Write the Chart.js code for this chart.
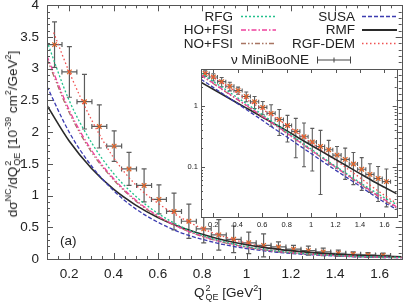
<!DOCTYPE html>
<html>
<head>
<meta charset="utf-8">
<script src="https://cdn.jsdelivr.net/npm/chart.js@4.4.1/dist/chart.umd.min.js"></script>
<style>
  html, body { margin: 0; padding: 0; background: #fff; }
  #wrap { position: relative; width: 407px; height: 303px; overflow: hidden;
          font-family: 'Liberation Sans', Arial, sans-serif; color: #222; }
  #main { position: absolute; left: 0; top: 0; }
  #inset { position: absolute; left: 176px; top: 62px; }
  .txt { position: absolute; white-space: nowrap; font-size: 13.5px; line-height: 1; }
  .ytitle { left: 13px; top: 134px; transform: translate(-50%, -50%) rotate(-90deg); }
  .xtitle { left: 228px; top: 293px; transform: translate(-50%, -50%); }
  .ss { display: inline-flex; flex-direction: column; vertical-align: middle;
        font-size: 9px; line-height: 9px; margin-left: 1px; }
  sup { font-size: 9px; vertical-align: 6px; line-height: 0; }
  .tag { left: 60px; top: 234px; }
</style>
</head>
<body>
<div id="wrap">
  <canvas id="main" width="407" height="303"></canvas>
  <canvas id="inset" width="226" height="172"></canvas>
  <div class="txt ytitle">d&sigma;<sup>NC</sup>/dQ<span class="ss"><span>2</span><span>QE</span></span> [10<sup>-39</sup> cm<sup>2</sup>/GeV<sup>2</sup>]</div>
  <div class="txt xtitle">Q<span class="ss"><span>2</span><span>QE</span></span> [GeV<sup>2</sup>]</div>
  <div class="txt tag">(a)</div>
</div>
<script>
// MiniBooNE NCE points (bin centres, cross section, error)
const q2 = [0.134, 0.201, 0.269, 0.336, 0.403, 0.470, 0.538, 0.605, 0.673, 0.740, 0.807, 0.875,
            0.942, 1.010, 1.077, 1.144, 1.212, 1.279, 1.346, 1.414, 1.481, 1.548, 1.616];
const nceData = [3.38, 2.95, 2.48, 2.09, 1.78, 1.42, 1.16, 0.94, 0.75, 0.595, 0.475, 0.38,
                 0.31, 0.255, 0.215, 0.19, 0.155, 0.132, 0.111, 0.091, 0.075, 0.064, 0.057];
const nceErr = [0.36, 0.40, 0.43, 0.34, 0.24, 0.26, 0.26, 0.23, 0.29, 0.27, 0.22, 0.24,
                0.21, 0.17, 0.18, 0.08, 0.06, 0.07, 0.06, 0.05, 0.037, 0.037, 0.035];
const binHalf = 0.0337;

// model curves
const curveQ2 = [0.1, 0.2, 0.3, 0.4, 0.5, 0.6, 0.7, 0.8, 0.9, 1.0, 1.1, 1.2, 1.3, 1.4, 1.5, 1.6, 1.7];
const rfg   = [3.43, 2.50, 1.84, 1.35, 0.99, 0.72, 0.52, 0.375, 0.27, 0.195, 0.14, 0.102, 0.075, 0.055, 0.041, 0.031, 0.024];
const hoFsi = [3.20, 2.35, 1.72, 1.27, 0.93, 0.68, 0.495, 0.36, 0.26, 0.188, 0.136, 0.099, 0.072, 0.053, 0.039, 0.029, 0.022];
const noFsi = [3.15, 2.31, 1.69, 1.25, 0.915, 0.67, 0.49, 0.355, 0.258, 0.186, 0.135, 0.098, 0.071, 0.052, 0.038, 0.028, 0.021];
const susa  = [2.72, 2.00, 1.47, 1.08, 0.79, 0.58, 0.42, 0.31, 0.225, 0.165, 0.12, 0.088, 0.065, 0.048, 0.035, 0.026, 0.020];
const rmf   = [2.42, 1.86, 1.43, 1.10, 0.85, 0.655, 0.505, 0.39, 0.295, 0.225, 0.172, 0.132, 0.101, 0.077, 0.059, 0.046, 0.036];
const rgfQ2 = [0.13, 0.2, 0.3, 0.4, 0.5, 0.6, 0.7, 0.8, 0.9, 1.0, 1.1, 1.2, 1.3, 1.4, 1.5, 1.6, 1.7];
const rgfDem = [3.57, 2.95, 2.20, 1.60, 1.17, 0.88, 0.66, 0.48, 0.35, 0.25, 0.178, 0.128, 0.092, 0.066, 0.047, 0.034, 0.025];

const xTicks = [0.2, 0.4, 0.6, 0.8, 1, 1.2, 1.4, 1.6];
const yTicks = [0, 0.5, 1, 1.5, 2, 2.5, 3, 3.5, 4];
const insetYTicks = [0.1, 1];

Chart.defaults.font.family = "'Liberation Sans', Arial, sans-serif";
Chart.defaults.color = '#222';
Chart.defaults.animation = false;

const models = [
  { label: 'RFG',     x: curveQ2, y: rfg,    color: '#22c08c', dash: [2, 2],             width: 1.3 },
  { label: 'HO+FSI',  x: curveQ2, y: hoFsi,  color: '#ee3f9c', dash: [5, 2, 1.5, 2],      width: 1.3 },
  { label: 'NO+FSI',  x: curveQ2, y: noFsi,  color: '#a87462', dash: [5, 2, 1.5, 2, 1.5, 2], width: 1.3 },
  { label: 'SUSA',    x: curveQ2, y: susa,   color: '#3c3cb0', dash: [4, 2],             width: 1.3 },
  { label: 'RMF',     x: curveQ2, y: rmf,    color: '#2a2a2a', dash: [],                 width: 1.6 },
  { label: 'RGF-DEM', x: rgfQ2,   y: rgfDem, color: '#f05050', dash: [1.5, 2.5],         width: 1.3 }
];

function buildDatasets() {
  const sets = models.map(m => ({
    type: 'line',
    label: m.label,
    data: m.x.map((x, i) => ({ x: x, y: m.y[i] })),
    borderColor: m.color,
    borderDash: m.dash,
    borderWidth: m.width,
    pointRadius: 0,
    fill: false,
    cubicInterpolationMode: 'monotone'
  }));
  sets.push({
    type: 'scatter',
    label: 'ν MiniBooNE',
    data: q2.map((x, i) => ({ x: x, y: nceData[i] })),
    errors: nceErr,
    pointStyle: 'crossRot',
    pointRadius: 3.2,
    borderColor: '#e0642a',
    backgroundColor: '#e0642a',
    borderWidth: 1.3
  });
  return sets;
}

// error bars drawn through the scales
const errorBars = {
  id: 'errorBars',
  beforeDatasetsDraw(chart, args, opts) {
    const { ctx, chartArea: a, scales: { x, y } } = chart;
    const ds = chart.data.datasets.find(d => d.errors);
    const cap = opts.cap;
    ctx.save();
    ctx.beginPath();
    ctx.rect(a.left, a.top, a.right - a.left, a.bottom - a.top);
    ctx.clip();
    ctx.strokeStyle = '#5c5c5c';
    ctx.lineWidth = opts.width;
    ds.data.forEach((p, i) => {
      const px = x.getPixelForValue(p.x);
      const py = y.getPixelForValue(p.y);
      const x0 = x.getPixelForValue(p.x - binHalf);
      const x1 = x.getPixelForValue(p.x + binHalf);
      const y0 = y.getPixelForValue(p.y + ds.errors[i]);
      const y1 = y.getPixelForValue(p.y - ds.errors[i]);
      ctx.beginPath();
      ctx.moveTo(x0, py); ctx.lineTo(x1, py);
      ctx.moveTo(x0, py - cap); ctx.lineTo(x0, py + cap);
      ctx.moveTo(x1, py - cap); ctx.lineTo(x1, py + cap);
      ctx.moveTo(px, y0); ctx.lineTo(px, y1);
      ctx.moveTo(px - cap, y0); ctx.lineTo(px + cap, y0);
      ctx.moveTo(px - cap, y1); ctx.lineTo(px + cap, y1);
      ctx.stroke();
    });
    ctx.restore();
  }
};

// white plot area + frame with inward ticks on all sides
const frame = {
  id: 'frame',
  beforeDraw(chart) {
    const { ctx, chartArea: a } = chart;
    ctx.save();
    ctx.fillStyle = '#fff';
    ctx.fillRect(a.left, a.top, a.right - a.left, a.bottom - a.top);
    ctx.restore();
  },
  afterDraw(chart, args, opts) {
    const { ctx, chartArea: a, scales: { x, y } } = chart;
    ctx.save();
    ctx.strokeStyle = '#555';
    ctx.lineWidth = 1;
    ctx.beginPath();
    const xt = (vals, len) => vals.forEach(v => {
      const p = Math.round(x.getPixelForValue(v)) + 0.5;
      ctx.moveTo(p, a.bottom); ctx.lineTo(p, a.bottom - len);
      ctx.moveTo(p, a.top); ctx.lineTo(p, a.top + len);
    });
    const yt = (vals, len) => vals.forEach(v => {
      const p = Math.round(y.getPixelForValue(v)) + 0.5;
      ctx.moveTo(a.left, p); ctx.lineTo(a.left + len, p);
      ctx.moveTo(a.right, p); ctx.lineTo(a.right - len, p);
    });
    xt(opts.xMajor, opts.major); xt(opts.xMinor, opts.minor);
    yt(opts.yMajor, opts.major); yt(opts.yMinor, opts.minor);
    ctx.stroke();
    ctx.strokeRect(Math.round(a.left) + 0.5, Math.round(a.top) + 0.5,
                   Math.round(a.right - a.left), Math.round(a.bottom - a.top));
    ctx.restore();
  }
};

// legend drawn in the top right corner of the main plot
const legendBox = {
  id: 'legendBox',
  afterDraw(chart) {
    const { ctx } = chart;
    const cols = [{ textRight: 233, s0: 241, s1: 276 }, { textRight: 355, s0: 362, s1: 397 }];
    const rows = [16, 29.5, 43];
    ctx.save();
    ctx.font = "13.5px 'Liberation Sans', Arial, sans-serif";
    ctx.textAlign = 'right';
    ctx.textBaseline = 'middle';
    models.forEach((m, i) => {
      const c = cols[Math.floor(i / 3)], r = rows[i % 3];
      ctx.fillStyle = '#222';
      ctx.fillText(m.label, c.textRight, r + 1);
      ctx.strokeStyle = m.color;
      ctx.lineWidth = m.width + 0.4;
      ctx.setLineDash(m.dash);
      ctx.beginPath();
      ctx.moveTo(c.s0, r + 0.5); ctx.lineTo(c.s1, r + 0.5);
      ctx.stroke();
    });
    ctx.setLineDash([]);
    const r = 59.5;
    ctx.fillStyle = '#222';
    ctx.fillText('ν MiniBooNE', 309, r + 1);
    ctx.strokeStyle = '#444';
    ctx.lineWidth = 1;
    ctx.beginPath();
    ctx.moveTo(317, r + 0.5); ctx.lineTo(351, r + 0.5);
    ctx.moveTo(317.5, r - 3); ctx.lineTo(317.5, r + 4);
    ctx.moveTo(350.5, r - 3); ctx.lineTo(350.5, r + 4);
    ctx.moveTo(334, r - 2); ctx.lineTo(334, r + 3);
    ctx.stroke();
    ctx.restore();
  }
};

function numLabel(v) { return String(Number(Number(v).toFixed(2))); }

const minorX = [], minorY = [];
for (let v = 0.1; v < 1.71; v += 0.05) minorX.push(v);
for (let v = 0; v < 4.01; v += 0.1) minorY.push(v);

function noPadY(s, w) { s.width = w; s.paddingTop = 0; s.paddingBottom = 0; }
function noPadX(s, h) { s.height = h; s.paddingLeft = 0; s.paddingRight = 0; }

new Chart(document.getElementById('main'), {
  type: 'scatter',
  data: { datasets: buildDatasets() },
  options: {
    responsive: false,
    layout: { padding: { top: 5, right: 1, left: 0, bottom: 0 } },
    plugins: {
      legend: { display: false },
      tooltip: { enabled: false },
      errorBars: { cap: 2.5, width: 1.2 },
      frame: { xMajor: xTicks, xMinor: minorX, yMajor: yTicks, yMinor: minorY, major: 6, minor: 3 }
    },
    scales: {
      x: {
        type: 'linear', min: 0.1, max: 1.7,
        grid: { display: false, drawTicks: false }, border: { display: false },
        afterBuildTicks: s => { s.ticks = xTicks.map(v => ({ value: v })); },
        afterFit: s => noPadX(s, 44),
        ticks: { padding: 7, autoSkip: false, maxRotation: 0, font: { size: 13.5 }, callback: numLabel }
      },
      y: {
        type: 'linear', min: 0, max: 4,
        grid: { display: false, drawTicks: false }, border: { display: false },
        afterBuildTicks: s => { s.ticks = yTicks.map(v => ({ value: v })); },
        afterFit: s => noPadY(s, 47),
        ticks: { padding: 8, autoSkip: false, font: { size: 13.5 }, callback: numLabel }
      }
    }
  },
  plugins: [frame, errorBars, legendBox]
});

const insetMinorY = [0.02, 0.03, 0.04, 0.05, 0.06, 0.07, 0.08, 0.09, 0.2, 0.3, 0.4, 0.5, 0.6, 0.7, 0.8, 0.9, 2, 3, 4];

new Chart(document.getElementById('inset'), {
  type: 'scatter',
  data: { datasets: buildDatasets() },
  options: {
    responsive: false,
    layout: { padding: { top: 7, right: 5, left: 0, bottom: 0 } },
    plugins: {
      legend: { display: false },
      tooltip: { enabled: false },
      errorBars: { cap: 2, width: 1.1 },
      frame: { xMajor: xTicks, xMinor: [], yMajor: insetYTicks, yMinor: insetMinorY, major: 4, minor: 2 }
    },
    scales: {
      x: {
        type: 'linear', min: 0.1, max: 1.7,
        grid: { display: false, drawTicks: false }, border: { display: false },
        afterBuildTicks: s => { s.ticks = xTicks.map(v => ({ value: v })); },
        afterFit: s => noPadX(s, 17),
        ticks: { padding: 3, autoSkip: false, maxRotation: 0, font: { size: 7.5 }, callback: numLabel }
      },
      y: {
        type: 'logarithmic', min: 0.015, max: 4,
        grid: { display: false, drawTicks: false }, border: { display: false },
        afterBuildTicks: s => { s.ticks = insetYTicks.map(v => ({ value: v })); },
        afterFit: s => noPadY(s, 25),
        ticks: { padding: 3, autoSkip: false, font: { size: 7.5 }, callback: numLabel }
      }
    }
  },
  plugins: [frame, errorBars]
});
</script>
</body>
</html>
